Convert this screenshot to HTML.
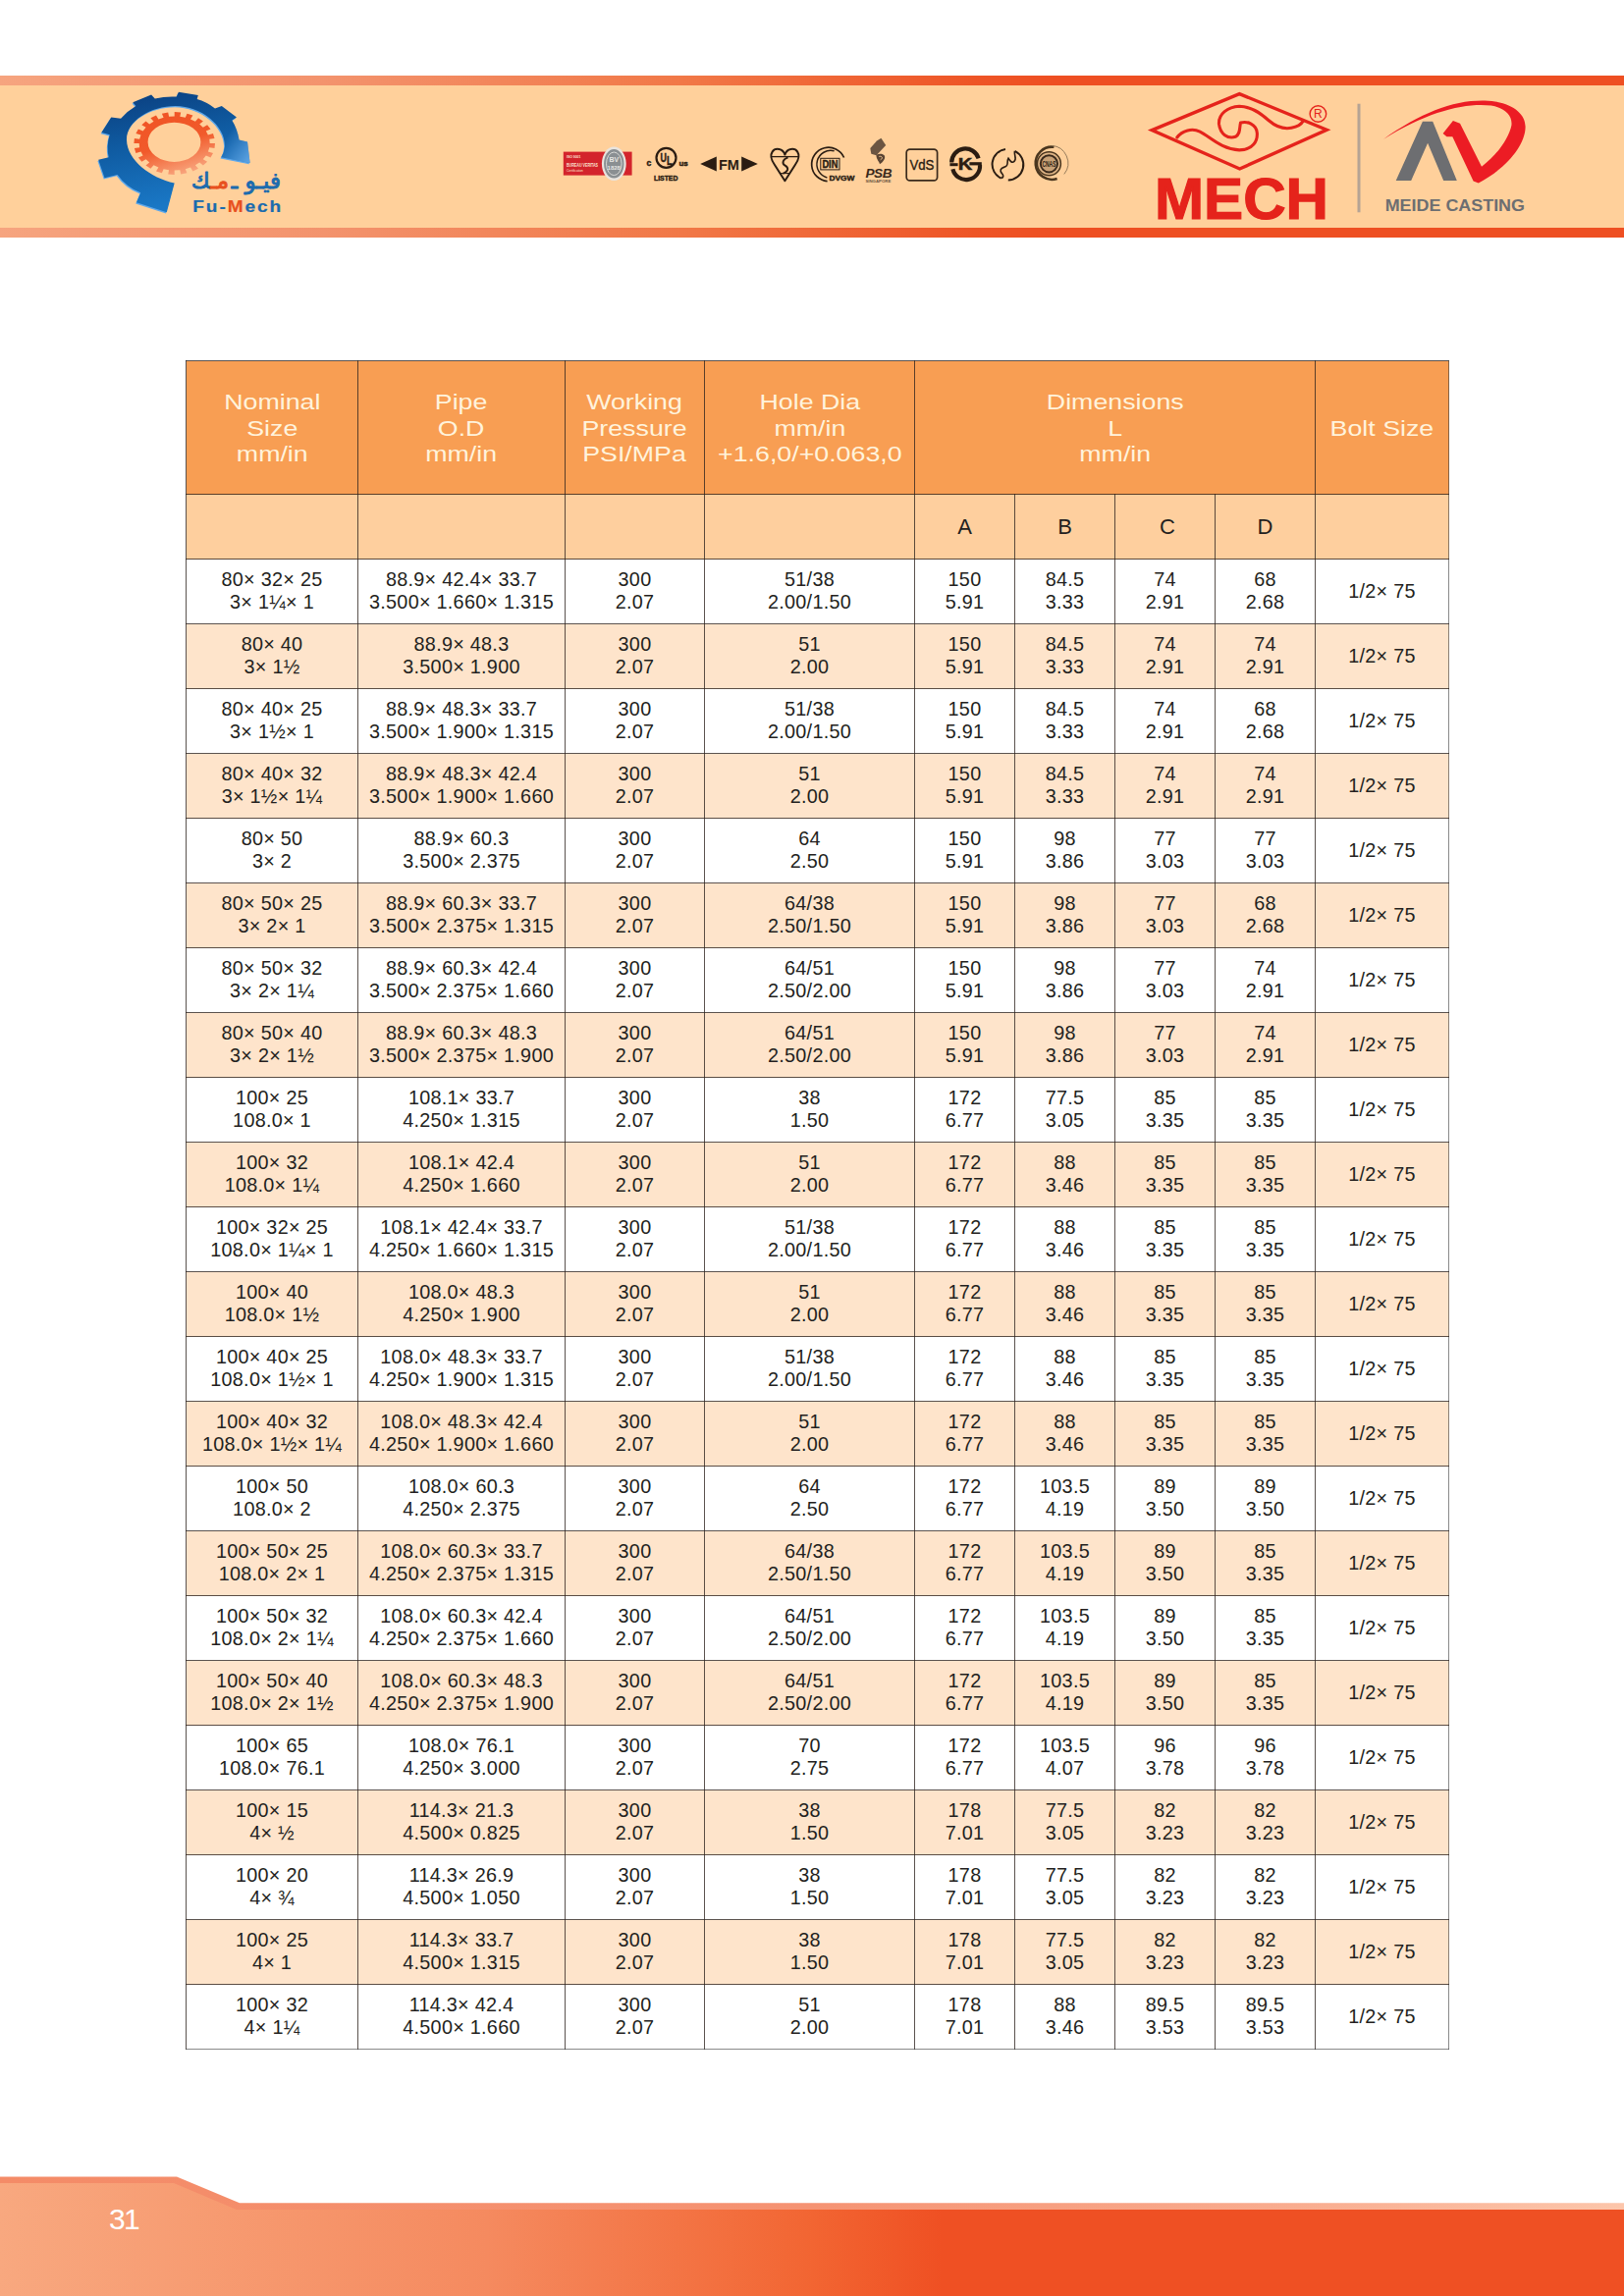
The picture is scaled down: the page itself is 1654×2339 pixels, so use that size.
<!DOCTYPE html>
<html lang="en">
<head>
<meta charset="utf-8">
<title>Fu-Mech Catalogue – Page 31</title>
<style>
html,body{margin:0;padding:0;}
body{width:1654px;height:2339px;position:relative;background:#fff;overflow:hidden;font-family:"Liberation Sans",sans-serif;color:#231f20;}
.topband{position:absolute;left:0;top:77px;width:1654px;height:165px;background:#ffd09b;}
.topband .s1,.topband .s2{position:absolute;left:0;width:100%;height:10px;background:linear-gradient(90deg,#f6a47f 0%,#f3936d 20%,#f17847 42%,#ee5526 60%,#ee4f22 65%,#ee4f22 100%);}
.topband .s1{top:0;}
.topband .s2{bottom:0;}
.hdrsvg{position:absolute;left:0;top:0;width:1654px;height:260px;}
table.spec{position:absolute;left:189px;top:367px;border-collapse:collapse;table-layout:fixed;width:1286px;}
table.spec td,table.spec th{border:1px solid rgba(45,35,30,.78);padding:0;text-align:center;vertical-align:middle;font-weight:normal;}
table.spec thead tr.h1 th{height:135px;background:#f89e53;color:#fff3dc;font-size:22.5px;line-height:26.4px;}
table.spec thead tr.h1 th span{display:inline-block;position:relative;top:1.3px;transform:scaleX(1.19);transform-origin:50% 50%;white-space:nowrap;}
table.spec thead tr.h2 th{height:65px;background:#fecf9e;font-size:22px;color:#231f20;}
table.spec tbody td{height:64px;font-size:19.8px;line-height:23px;letter-spacing:.28px;background:#fff;padding-bottom:1px;}
table.spec tbody tr.alt td{background:#fee4cb;}
table.spec tbody tr:last-child td{border-bottom-color:rgba(60,60,60,.6);}
table.spec tr>*:last-child{border-right-color:rgba(60,60,60,.6);}
.footer{position:absolute;left:0;top:2200px;width:1654px;height:139px;}
.pageno{position:absolute;left:111px;top:2246.3px;font-size:30px;line-height:30px;color:#fff;letter-spacing:-1.8px;}
</style>
</head>
<body>
<div class="topband"><div class="s1"></div><div class="s2"></div></div>
<svg class="hdrsvg" viewBox="0 0 1654 260" width="1654" height="260">
<defs>
<linearGradient id="gb" x1="0" y1="0" x2="0.25" y2="1"><stop offset="0" stop-color="#0a3c7c"/><stop offset=".45" stop-color="#0f5aa0"/><stop offset="1" stop-color="#1a78c6"/></linearGradient>
<linearGradient id="go" x1="0.3" y1="0" x2="0.7" y2="1"><stop offset="0" stop-color="#f05425"/><stop offset=".5" stop-color="#f15a2b"/><stop offset="1" stop-color="#f9ab84"/></linearGradient>
<linearGradient id="gb2" gradientUnits="userSpaceOnUse" x1="226" y1="146" x2="256" y2="166"><stop offset="0" stop-color="#6fb2f0" stop-opacity="0"/><stop offset="1" stop-color="#7fbcf5" stop-opacity=".75"/></linearGradient>
</defs>
<g id="fumech-logo">
<path d="M254.6,166.0 L252.0,144.5 L243.6,142.4 Q241.6,130.9 236.3,122.5 L241.0,119.4 L225.8,107.9 L219.0,110.5 Q210.1,103.7 200.7,101.1 L201.8,96.9 L181.9,93.8 L179.8,98.5 Q168.3,97.9 157.8,100.4 L154.1,96.4 L135.3,104.2 L138.4,107.9 Q129.5,113.1 123.1,120.7 L113.3,119.4 L103.4,135.1 L111.7,137.2 Q108.1,148.7 110.7,160.2 L100.2,162.8 L106.5,181.2 L119.6,178.0 Q128.5,190.6 143.2,196.3 L139.0,206.3 L169.8,216.2 L177.7,186.4 C153.6,181.2 129.5,163.4 129.0,142.4 C129.0,123.1 153.6,108.1 178.7,108.1 C204.9,108.1 229.0,127.8 229.0,148.7 Q228.5,155.0 225.3,160.2 Z" fill="#5fa8ea" transform="translate(-0.8,1.2)"/>
<path d="M254.6,166.0 L252.0,144.5 L243.6,142.4 Q241.6,130.9 236.3,122.5 L241.0,119.4 L225.8,107.9 L219.0,110.5 Q210.1,103.7 200.7,101.1 L201.8,96.9 L181.9,93.8 L179.8,98.5 Q168.3,97.9 157.8,100.4 L154.1,96.4 L135.3,104.2 L138.4,107.9 Q129.5,113.1 123.1,120.7 L113.3,119.4 L103.4,135.1 L111.7,137.2 Q108.1,148.7 110.7,160.2 L100.2,162.8 L106.5,181.2 L119.6,178.0 Q128.5,190.6 143.2,196.3 L139.0,206.3 L169.8,216.2 L177.7,186.4 C153.6,181.2 129.5,163.4 129.0,142.4 C129.0,123.1 153.6,108.1 178.7,108.1 C204.9,108.1 229.0,127.8 229.0,148.7 Q228.5,155.0 225.3,160.2 Z" fill="url(#gb)"/>
<path d="M254.6,166.0 L252.0,144.5 L243.6,142.4 Q241.6,130.9 236.3,122.5 L241.0,119.4 L225.8,107.9 L219.0,110.5 Q210.1,103.7 200.7,101.1 L201.8,96.9 L181.9,93.8 L179.8,98.5 Q168.3,97.9 157.8,100.4 L154.1,96.4 L135.3,104.2 L138.4,107.9 Q129.5,113.1 123.1,120.7 L113.3,119.4 L103.4,135.1 L111.7,137.2 Q108.1,148.7 110.7,160.2 L100.2,162.8 L106.5,181.2 L119.6,178.0 Q128.5,190.6 143.2,196.3 L139.0,206.3 L169.8,216.2 L177.7,186.4 C153.6,181.2 129.5,163.4 129.0,142.4 C129.0,123.1 153.6,108.1 178.7,108.1 C204.9,108.1 229.0,127.8 229.0,148.7 Q228.5,155.0 225.3,160.2 Z" fill="url(#gb2)"/>
<path d="M213.7,146.0 L219.0,146.0 L218.5,151.0 L213.3,150.3 L211.9,154.5 L217.0,155.9 L214.5,160.5 L209.8,158.5 L206.8,162.2 L211.1,164.8 L206.9,168.6 L203.2,165.5 L198.9,168.3 L202.0,171.8 L196.4,174.4 L194.0,170.6 L188.8,172.2 L190.5,176.3 L184.2,177.5 L183.3,173.3 L177.7,173.6 L177.7,177.9 L171.2,177.5 L172.1,173.3 L166.6,172.2 L164.9,176.3 L159.0,174.4 L161.4,170.6 L156.5,168.3 L153.4,171.8 L148.5,168.6 L152.2,165.5 L148.6,162.2 L144.3,164.8 L140.9,160.5 L145.6,158.5 L143.5,154.5 L138.4,155.9 L136.9,151.0 L142.1,150.3 L141.7,146.0 L136.4,146.0 L136.9,141.0 L142.1,141.7 L143.5,137.5 L138.4,136.1 L140.9,131.5 L145.6,133.5 L148.6,129.8 L144.3,127.2 L148.5,123.4 L152.2,126.5 L156.5,123.7 L153.4,120.2 L159.0,117.6 L161.4,121.4 L166.6,119.8 L164.9,115.7 L171.2,114.5 L172.1,118.7 L177.7,118.4 L177.7,114.1 L184.2,114.5 L183.3,118.7 L188.8,119.8 L190.5,115.7 L196.4,117.6 L194.0,121.4 L198.9,123.7 L202.0,120.2 L206.9,123.4 L203.2,126.5 L206.8,129.8 L211.1,127.2 L214.5,131.5 L209.8,133.5 L211.9,137.5 L217.0,136.1 L218.5,141.0 L213.3,141.7 Z M150.6,144.8 a26.9,20.1 0 1,0 53.8,0 a26.9,20.1 0 1,0 -53.8,0 Z" fill="url(#go)" fill-rule="evenodd"/>
<text x="286" y="192" text-anchor="end" font-family="'DejaVu Sans',sans-serif" font-size="23" fill="#1b6bae" stroke="#1b6bae" stroke-width=".9" stroke-linejoin="round" id="artxt">فيـو ـ <tspan fill="#e8501f" stroke="#e8501f">مـ</tspan>ك</text>
<text transform="translate(196.3,216.3) scale(1.22,1)" font-family="'Liberation Sans',sans-serif" font-weight="bold" font-size="15.6" fill="#1b6bae" stroke="#1b6bae" stroke-width=".2" textLength="73.6" lengthAdjust="spacing">Fu-<tspan fill="#e8501f" stroke="#e8501f">M</tspan>ech</text>
</g>
<g id="cert-logos" font-family="'Liberation Sans',sans-serif">
<!-- Bureau Veritas -->
<g id="bv">
<rect x="573.8" y="154.6" width="69.8" height="24" fill="#d3242c"/>
<text x="577" y="161.3" font-size="3.4" font-weight="bold" fill="#fbe3d3">ISO 9001</text>
<text x="577" y="169.6" font-size="4.6" font-weight="bold" fill="#fbe3d3" textLength="32" lengthAdjust="spacingAndGlyphs">BUREAU VERITAS</text>
<text x="577" y="174.6" font-size="3.2" fill="#fbe3d3">Certification</text>
<ellipse cx="625.3" cy="166.8" rx="12.4" ry="17.2" fill="#e9e4de"/>
<ellipse cx="625.3" cy="166.8" rx="10.2" ry="14.8" fill="#8a8f92"/>
<ellipse cx="625.3" cy="166.8" rx="7.8" ry="11.8" fill="none" stroke="#d9d9d6" stroke-width="1"/>
<text x="625.3" y="165" font-size="7" font-weight="bold" fill="#e6e6e3" text-anchor="middle">BV</text>
<text x="625.3" y="172.5" font-size="6" font-weight="bold" fill="#e6e6e3" text-anchor="middle">1828</text>
</g>
<!-- UL listed -->
<g id="ul" fill="#2a1c12" stroke="#2a1c12" stroke-width=".45">
<circle cx="678.5" cy="160.8" r="10" fill="none" stroke="#2a1c12" stroke-width="2.2"/>
<text x="672.4" y="164.6" font-size="13" font-weight="bold" textLength="6.4" lengthAdjust="spacingAndGlyphs">U</text>
<text x="679" y="168" font-size="13" font-weight="bold" textLength="5.8" lengthAdjust="spacingAndGlyphs">L</text>
<text x="658.4" y="169" font-size="8.5" font-weight="bold">c</text>
<text x="691.4" y="169" font-size="8" font-weight="bold">us</text>
<text x="678.2" y="184.3" font-size="7.6" font-weight="bold" text-anchor="middle" textLength="24.5" lengthAdjust="spacingAndGlyphs">LISTED</text>
</g>
<!-- FM -->
<g id="fm" fill="#2a1c12">
<path d="M713.2,166.9 L729.8,159.6 L729.8,174.4 Z"/>
<text x="742.4" y="172.6" font-size="15.4" font-weight="bold" text-anchor="middle" textLength="21" lengthAdjust="spacingAndGlyphs">FM</text>
<path d="M771.8,166.9 L755.2,159.6 L755.2,174.4 Z"/>
</g>
<!-- BSI kitemark -->
<g id="kite" fill="none" stroke="#2a1c12" stroke-width="2" stroke-linejoin="round">
<path d="M799.4,157.6 C797.5,151.2 789.6,150 786.6,154.6 C783.6,159 786.2,164 789,168 L799.4,184.2 L809.8,168 C812.6,164 815.2,159 812.2,154.6 C809.2,150 801.3,151.2 799.4,157.6 Z"/>
<path d="M785.6,159.6 L813.2,159.6" stroke-width="1.3"/>
<path d="M802.5,160.4 C797,162.5 796,166.5 799.6,168.6 C803.4,170.8 803.4,174.6 797.4,176.8" stroke-width="1.9"/>
<path d="M794.6,176.6 L804.2,176.6" stroke-width="1.1"/>
</g>
<!-- DIN DVGW -->
<g id="din" fill="#2a1c12" stroke="#2a1c12" stroke-width=".4">
<path d="M859.6,160.5 A17.2,17.2 0 1 0 842.6,184.6" fill="none" stroke="#2a1c12" stroke-width="1.7"/>
<path d="M849.6,153.8 A14,14 0 1 0 842.4,181" fill="none" stroke="#2a1c12" stroke-width="1.5"/>
<rect x="835.8" y="161.3" width="19.2" height="11.6" fill="none" stroke="#2a1c12" stroke-width="1"/>
<text x="845.4" y="170.9" font-size="10.4" font-weight="bold" text-anchor="middle" textLength="16" lengthAdjust="spacingAndGlyphs">DIN</text>
<text x="857.4" y="184.3" font-size="7.4" font-weight="bold" text-anchor="middle" textLength="26" lengthAdjust="spacingAndGlyphs">DVGW</text>
</g>
<!-- PSB -->
<g id="psb" fill="#3a2a1c">
<path d="M893.0,143.4 L897.4,140.7 L902.2,148.0 L892.6,158.3 L887.3,156.7 L886.3,151.0 Z" fill="#6b5542"/>
<path d="M892.4,157.8 C897.4,155.3 903.5,157.4 900.4,162.8 C898.7,165.5 897.4,166.4 896.0,167.2 C895.3,164.1 892.6,162.8 892.4,157.8 Z" fill="#5a4433"/>
<path d="M895.3,159.4 C898.7,158.7 899.4,161.4 896.7,162.8" fill="none" stroke="#ffd09b" stroke-width=".9"/>
<text x="895" y="180.6" font-size="13.6" font-weight="bold" font-style="italic" text-anchor="middle" textLength="27" lengthAdjust="spacing">PSB</text>
<text x="894.4" y="185.8" font-size="3.6" font-weight="bold" text-anchor="middle" textLength="26" lengthAdjust="spacingAndGlyphs" fill="#6b5542">SINGAPORE</text>
</g>
<!-- VdS -->
<g id="vds">
<rect x="923.2" y="152.2" width="31.4" height="31.6" rx="3.4" fill="none" stroke="#3a2a1c" stroke-width="1.7"/>
<text x="938.9" y="173" font-size="15" text-anchor="middle" fill="#2a1c12" stroke="#2a1c12" stroke-width=".35" textLength="25" lengthAdjust="spacingAndGlyphs">VdS</text>
</g>
<!-- KS -->
<g id="ks" fill="#2a1c12">
<path d="M969.2,165.6 A14,14 0 0 1 996.6,161.4" fill="none" stroke="#2a1c12" stroke-width="4.2"/>
<path d="M970.4,172.2 A14,14 0 0 0 998,168" fill="none" stroke="#2a1c12" stroke-width="4.2"/>
<path d="M967.4,166.2 L975.6,166.2 L975.6,169.2 L967.4,169.2 Z"/>
<path d="M987.4,165.2 L999.8,165.2 L999.8,168.4 L987.4,168.4 Z"/>
<text x="983" y="173.4" font-size="17" font-weight="bold" text-anchor="middle" textLength="14.5" lengthAdjust="spacingAndGlyphs" stroke="#2a1c12" stroke-width=".5">K</text>
</g>
<!-- circle squiggle -->
<g id="cfa" fill="none" stroke="#2a1c12" stroke-width="2">
<path d="M1024,152 A15.6,15.6 0 0 0 1019.6,181.6"/>
<path d="M1033.6,153.8 A15.6,15.6 0 0 1 1026.8,183.4"/>
<path d="M1033.4,153.8 C1032.6,159 1036,161.6 1033,164.4 C1030.4,166.8 1028.6,163.6 1027,161.2 C1025.2,164 1027,166.4 1025.4,168.6 C1023.6,171 1020.6,169.8 1019.2,172.8 C1018.2,175.4 1021,176.4 1021.6,178.6 C1022,180.2 1020.8,181.2 1019.6,181.6" stroke-width="1.6"/>
</g>
<!-- seal -->
<g id="seal" fill="none" stroke="#4a361f">
<path d="M1073.4,149.8 A16.6,16.6 0 1 0 1076.6,182" stroke-width="2.6"/>
<path d="M1071,148.4 A17.8,17.8 0 0 1 1083.8,177.4" stroke-width=".9" stroke="#8a7253"/>
<circle cx="1068.4" cy="166.8" r="12" stroke-width="1.5" fill="rgba(74,54,31,.18)"/>
<circle cx="1068.4" cy="166.8" r="8.6" stroke-width="2" stroke="#3a2a1c" fill="rgba(74,54,31,.15)"/>
<text x="1068.4" y="170" font-size="8.4" font-weight="bold" text-anchor="middle" fill="#2a1c12" stroke="none" textLength="14" lengthAdjust="spacingAndGlyphs">CNAS</text>
</g>
</g>

<g id="mech-logo" fill="none" stroke="#e5231b">
<path d="M1173.2,132.6 L1262.3,95.6 L1351.2,132.3 L1262.6,172 Z" stroke-width="3.4" stroke-linejoin="miter"/>
<path id="swirl" d="M 1198.8,140.0 C 1204.0,132.8 1214.3,130.3 1222.1,134.1 C 1232.4,139.3 1244.1,152.2 1262.2,152.9 C 1276.4,152.9 1280.9,143.2 1280.3,135.4 C 1279.6,126.4 1269.9,123.1 1263.5,125.1 C 1262.2,130.3 1263.5,136.7 1258.3,139.3 C 1250.5,141.9 1242.8,136.7 1241.5,126.4 C 1240.8,116.0 1250.5,108.9 1262.2,108.3 C 1273.8,108.3 1282.9,114.7 1291.9,122.5 C 1301.0,130.3 1308.7,131.6 1315.2,130.3 C 1321.6,129.0 1325.5,126.4 1326.8,123.8" stroke-width="3.1" stroke-linecap="round"/>
<circle cx="1342.4" cy="116" r="8.3" stroke-width="1.4" fill="#ffd09b"/>
<text x="1342.4" y="120.3" text-anchor="middle" font-family="'Liberation Sans',sans-serif" font-size="12" fill="#e5231b" stroke="none">R</text>
<text x="1176" y="222.7" font-family="'Liberation Sans',sans-serif" font-weight="bold" font-size="59.6" fill="#e5231b" stroke="#e5231b" stroke-width="1.2" textLength="177" lengthAdjust="spacingAndGlyphs">MECH</text>
</g>

<g id="meide-logo">
<rect x="1382.5" y="105.7" width="3" height="110.6" fill="#b5a394"/>
<path d="M1448.9,123.8 L1459.2,123.8 L1483.8,183.9 L1470.2,183.9 L1454.1,145.8 L1437.2,183.9 L1421.7,183.9 Z" fill="#6d6e71"/>
<path d="M 1479.9,123.1 L 1487.0,125.7 L 1509.0,169.7 C 1525.2,157.4 1536.8,140.6 1539.4,127.7 C 1540.7,117.3 1531.6,109.6 1518.7,107.6 C 1492.9,104.4 1454.1,113.4 1408.8,141.9 C 1447.6,114.7 1479.9,101.8 1512.2,102.5 C 1538.1,103.1 1553.6,114.7 1553.6,129.0 C 1553.6,149.7 1531.6,172.9 1505.8,186.5 L 1500.6,184.6 L 1479.3,139.3 L 1473.5,139.3 L 1469.6,136.1 Z" fill="#ec1c24"/>
<text x="1410.7" y="214.8" font-family="'Liberation Sans',sans-serif" font-weight="bold" font-size="16.2" fill="#6d6e71" textLength="142.3" lengthAdjust="spacingAndGlyphs">MEIDE CASTING</text>
</g>
</svg>

<table class="spec">
<colgroup><col style="width:175px"><col style="width:211px"><col style="width:142px"><col style="width:214px"><col style="width:102px"><col style="width:102px"><col style="width:102px"><col style="width:102px"><col style="width:136px"></colgroup>
<thead>
<tr class="h1">
<th><span>Nominal<br>Size<br>mm/in</span></th>
<th><span>Pipe<br>O.D<br>mm/in</span></th>
<th><span>Working<br>Pressure<br>PSI/MPa</span></th>
<th><span>Hole Dia<br>mm/in<br>+1.6,0/+0.063,0</span></th>
<th colspan="4"><span>Dimensions<br>L<br>mm/in</span></th>
<th><span>Bolt Size</span></th>
</tr>
<tr class="h2"><th></th><th></th><th></th><th></th><th>A</th><th>B</th><th style="padding-left:5px">C</th><th>D</th><th></th></tr>
</thead>
<tbody>
<tr><td>80× 32× 25<br>3× 1¼× 1</td><td>88.9× 42.4× 33.7<br>3.500× 1.660× 1.315</td><td>300<br>2.07</td><td>51/38<br>2.00/1.50</td><td>150<br>5.91</td><td>84.5<br>3.33</td><td>74<br>2.91</td><td>68<br>2.68</td><td>1/2× 75</td></tr>
<tr class="alt"><td>80× 40<br>3× 1½</td><td>88.9× 48.3<br>3.500× 1.900</td><td>300<br>2.07</td><td>51<br>2.00</td><td>150<br>5.91</td><td>84.5<br>3.33</td><td>74<br>2.91</td><td>74<br>2.91</td><td>1/2× 75</td></tr>
<tr><td>80× 40× 25<br>3× 1½× 1</td><td>88.9× 48.3× 33.7<br>3.500× 1.900× 1.315</td><td>300<br>2.07</td><td>51/38<br>2.00/1.50</td><td>150<br>5.91</td><td>84.5<br>3.33</td><td>74<br>2.91</td><td>68<br>2.68</td><td>1/2× 75</td></tr>
<tr class="alt"><td>80× 40× 32<br>3× 1½× 1¼</td><td>88.9× 48.3× 42.4<br>3.500× 1.900× 1.660</td><td>300<br>2.07</td><td>51<br>2.00</td><td>150<br>5.91</td><td>84.5<br>3.33</td><td>74<br>2.91</td><td>74<br>2.91</td><td>1/2× 75</td></tr>
<tr><td>80× 50<br>3× 2</td><td>88.9× 60.3<br>3.500× 2.375</td><td>300<br>2.07</td><td>64<br>2.50</td><td>150<br>5.91</td><td>98<br>3.86</td><td>77<br>3.03</td><td>77<br>3.03</td><td>1/2× 75</td></tr>
<tr class="alt"><td>80× 50× 25<br>3× 2× 1</td><td>88.9× 60.3× 33.7<br>3.500× 2.375× 1.315</td><td>300<br>2.07</td><td>64/38<br>2.50/1.50</td><td>150<br>5.91</td><td>98<br>3.86</td><td>77<br>3.03</td><td>68<br>2.68</td><td>1/2× 75</td></tr>
<tr><td>80× 50× 32<br>3× 2× 1¼</td><td>88.9× 60.3× 42.4<br>3.500× 2.375× 1.660</td><td>300<br>2.07</td><td>64/51<br>2.50/2.00</td><td>150<br>5.91</td><td>98<br>3.86</td><td>77<br>3.03</td><td>74<br>2.91</td><td>1/2× 75</td></tr>
<tr class="alt"><td>80× 50× 40<br>3× 2× 1½</td><td>88.9× 60.3× 48.3<br>3.500× 2.375× 1.900</td><td>300<br>2.07</td><td>64/51<br>2.50/2.00</td><td>150<br>5.91</td><td>98<br>3.86</td><td>77<br>3.03</td><td>74<br>2.91</td><td>1/2× 75</td></tr>
<tr><td>100× 25<br>108.0× 1</td><td>108.1× 33.7<br>4.250× 1.315</td><td>300<br>2.07</td><td>38<br>1.50</td><td>172<br>6.77</td><td>77.5<br>3.05</td><td>85<br>3.35</td><td>85<br>3.35</td><td>1/2× 75</td></tr>
<tr class="alt"><td>100× 32<br>108.0× 1¼</td><td>108.1× 42.4<br>4.250× 1.660</td><td>300<br>2.07</td><td>51<br>2.00</td><td>172<br>6.77</td><td>88<br>3.46</td><td>85<br>3.35</td><td>85<br>3.35</td><td>1/2× 75</td></tr>
<tr><td>100× 32× 25<br>108.0× 1¼× 1</td><td>108.1× 42.4× 33.7<br>4.250× 1.660× 1.315</td><td>300<br>2.07</td><td>51/38<br>2.00/1.50</td><td>172<br>6.77</td><td>88<br>3.46</td><td>85<br>3.35</td><td>85<br>3.35</td><td>1/2× 75</td></tr>
<tr class="alt"><td>100× 40<br>108.0× 1½</td><td>108.0× 48.3<br>4.250× 1.900</td><td>300<br>2.07</td><td>51<br>2.00</td><td>172<br>6.77</td><td>88<br>3.46</td><td>85<br>3.35</td><td>85<br>3.35</td><td>1/2× 75</td></tr>
<tr><td>100× 40× 25<br>108.0× 1½× 1</td><td>108.0× 48.3× 33.7<br>4.250× 1.900× 1.315</td><td>300<br>2.07</td><td>51/38<br>2.00/1.50</td><td>172<br>6.77</td><td>88<br>3.46</td><td>85<br>3.35</td><td>85<br>3.35</td><td>1/2× 75</td></tr>
<tr class="alt"><td>100× 40× 32<br>108.0× 1½× 1¼</td><td>108.0× 48.3× 42.4<br>4.250× 1.900× 1.660</td><td>300<br>2.07</td><td>51<br>2.00</td><td>172<br>6.77</td><td>88<br>3.46</td><td>85<br>3.35</td><td>85<br>3.35</td><td>1/2× 75</td></tr>
<tr><td>100× 50<br>108.0× 2</td><td>108.0× 60.3<br>4.250× 2.375</td><td>300<br>2.07</td><td>64<br>2.50</td><td>172<br>6.77</td><td>103.5<br>4.19</td><td>89<br>3.50</td><td>89<br>3.50</td><td>1/2× 75</td></tr>
<tr class="alt"><td>100× 50× 25<br>108.0× 2× 1</td><td>108.0× 60.3× 33.7<br>4.250× 2.375× 1.315</td><td>300<br>2.07</td><td>64/38<br>2.50/1.50</td><td>172<br>6.77</td><td>103.5<br>4.19</td><td>89<br>3.50</td><td>85<br>3.35</td><td>1/2× 75</td></tr>
<tr><td>100× 50× 32<br>108.0× 2× 1¼</td><td>108.0× 60.3× 42.4<br>4.250× 2.375× 1.660</td><td>300<br>2.07</td><td>64/51<br>2.50/2.00</td><td>172<br>6.77</td><td>103.5<br>4.19</td><td>89<br>3.50</td><td>85<br>3.35</td><td>1/2× 75</td></tr>
<tr class="alt"><td>100× 50× 40<br>108.0× 2× 1½</td><td>108.0× 60.3× 48.3<br>4.250× 2.375× 1.900</td><td>300<br>2.07</td><td>64/51<br>2.50/2.00</td><td>172<br>6.77</td><td>103.5<br>4.19</td><td>89<br>3.50</td><td>85<br>3.35</td><td>1/2× 75</td></tr>
<tr><td>100× 65<br>108.0× 76.1</td><td>108.0× 76.1<br>4.250× 3.000</td><td>300<br>2.07</td><td>70<br>2.75</td><td>172<br>6.77</td><td>103.5<br>4.07</td><td>96<br>3.78</td><td>96<br>3.78</td><td>1/2× 75</td></tr>
<tr class="alt"><td>100× 15<br>4× ½</td><td>114.3× 21.3<br>4.500× 0.825</td><td>300<br>2.07</td><td>38<br>1.50</td><td>178<br>7.01</td><td>77.5<br>3.05</td><td>82<br>3.23</td><td>82<br>3.23</td><td>1/2× 75</td></tr>
<tr><td>100× 20<br>4× ¾</td><td>114.3× 26.9<br>4.500× 1.050</td><td>300<br>2.07</td><td>38<br>1.50</td><td>178<br>7.01</td><td>77.5<br>3.05</td><td>82<br>3.23</td><td>82<br>3.23</td><td>1/2× 75</td></tr>
<tr class="alt"><td>100× 25<br>4× 1</td><td>114.3× 33.7<br>4.500× 1.315</td><td>300<br>2.07</td><td>38<br>1.50</td><td>178<br>7.01</td><td>77.5<br>3.05</td><td>82<br>3.23</td><td>82<br>3.23</td><td>1/2× 75</td></tr>
<tr><td>100× 32<br>4× 1¼</td><td>114.3× 42.4<br>4.500× 1.660</td><td>300<br>2.07</td><td>51<br>2.00</td><td>178<br>7.01</td><td>88<br>3.46</td><td>89.5<br>3.53</td><td>89.5<br>3.53</td><td>1/2× 75</td></tr>
</tbody>
</table>

<svg class="footer" viewBox="0 2200 1654 139" width="1654" height="139">
<defs>
<linearGradient id="fg" x1="0" x2="1" y1="0" y2="0"><stop offset="0" stop-color="#f8a87f"/><stop offset=".3" stop-color="#f58a5f"/><stop offset=".5" stop-color="#f26532"/><stop offset=".58" stop-color="#ef5023"/><stop offset="1" stop-color="#ef5023"/></linearGradient>
<linearGradient id="fs" x1="0" x2="1" y1="0" y2="0"><stop offset="0" stop-color="#f48b67"/><stop offset=".5" stop-color="#f59373"/><stop offset=".8" stop-color="#f9ad90"/><stop offset="1" stop-color="#fcc6ab"/></linearGradient>
</defs>
<path d="M0 2217.5 L180 2217.5 L244 2244.3 L1654 2244.3 L1654 2339 L0 2339 Z" fill="url(#fs)"/>
<path d="M0 2224 L177 2224 L241 2251 L1654 2251 L1654 2339 L0 2339 Z" fill="url(#fg)"/>
</svg>
<div class="pageno">31</div>
</body>
</html>
